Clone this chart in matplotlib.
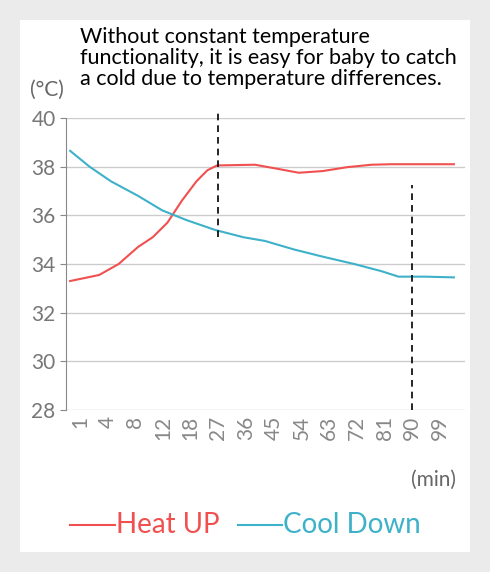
import matplotlib.pyplot as plt
from matplotlib.patches import Rectangle

plt.rcParams['font.family'] = ['Lato', 'DejaVu Sans']

minutes = ["1", "4", "8", "12", "18", "27", "36", "45", "54", "63", "72", "81", "90", "99"]

# positions in category units (0 = "1", 1 = "4", ...)
heat_x = [-0.35, 0.7, 1.4, 2.1, 2.63, 3.16, 3.68, 4.21, 4.6, 4.95, 6.32, 7.19, 7.9, 8.77, 9.65, 10.53, 11.23, 13.5]
heat_y = [33.3, 33.55, 34.0, 34.7, 35.1, 35.7, 36.6, 37.4, 37.85, 38.05, 38.08, 37.9, 37.75, 37.82, 37.98, 38.08, 38.1, 38.1]
cool_x = [-0.35, 0.35, 1.12, 2.1, 2.98, 3.86, 4.88, 5.9, 6.67, 7.72, 8.77, 9.9, 10.9, 11.5, 12.46, 13.5]
cool_y = [38.65, 38.0, 37.4, 36.8, 36.2, 35.8, 35.4, 35.1, 34.95, 34.6, 34.3, 34.0, 33.7, 33.48, 33.48, 33.45]

red = "#f0504f"
teal = "#3db1c9"

fig = plt.figure(figsize=(4.9, 5.72), dpi=100, facecolor="#ebebeb")
fig.patches.append(Rectangle((20 / 490, 20 / 572), 450 / 490, 532 / 572,
                             transform=fig.transFigure, facecolor="white", zorder=-1))
ax = fig.add_axes([66 / 490, 1 - 410 / 572, 399 / 490, 292 / 572])
ax.set_facecolor("white")

ax.plot(heat_x, heat_y, color=red, lw=1.5)
ax.plot(cool_x, cool_y, color=teal, lw=1.5)
ax.plot([5, 5], [35.1, 40.25], color="black", ls=(0, (4, 3)), lw=1.2, clip_on=False)
ax.plot([12, 12], [28, 37.25], color="black", ls=(0, (4, 3)), lw=1.2)

ax.set_xlim(-0.5, 13.9)
ax.set_ylim(28, 40)
ax.set_yticks(range(28, 41, 2))
ax.set_xticks(range(len(minutes)))
ax.set_xticklabels(minutes, rotation=90)
ax.yaxis.grid(True, color="#cccccc", lw=1)
ax.set_axisbelow(True)
for s in ["top", "right", "bottom"]:
    ax.spines[s].set_visible(False)
ax.spines["left"].set_color("#888888")
ax.tick_params(axis="y", colors="#888888", labelsize=15, length=4, labelcolor="#777777")
ax.tick_params(axis="x", length=0, labelsize=15, labelcolor="#888888", pad=4)

fig.text(80 / 490, 1 - 27 / 572,
         "Without constant temperature\nfunctionality, it is easy for baby to catch\na cold due to temperature differences.",
         fontsize=15.5, va="top", ha="left", linespacing=1.05)
fig.text(30 / 490, 1 - 90 / 572, "(°C)", fontsize=15, color="#666666", va="center")
fig.text(456 / 490, 1 - 480 / 572, "(min)", fontsize=15, color="#666666", va="center", ha="right")

fig.lines.append(plt.Line2D([70 / 490, 115 / 490], [1 - 525 / 572] * 2, color=red, lw=1.5,
                            transform=fig.transFigure))
fig.text(116 / 490, 1 - 525 / 572, "Heat UP", fontsize=20, color=red, va="center")
fig.lines.append(plt.Line2D([238 / 490, 282 / 490], [1 - 525 / 572] * 2, color=teal, lw=1.5,
                            transform=fig.transFigure))
fig.text(283 / 490, 1 - 525 / 572, "Cool Down", fontsize=20, color=teal, va="center")

fig.savefig("out.png", dpi=100, facecolor=fig.get_facecolor())
